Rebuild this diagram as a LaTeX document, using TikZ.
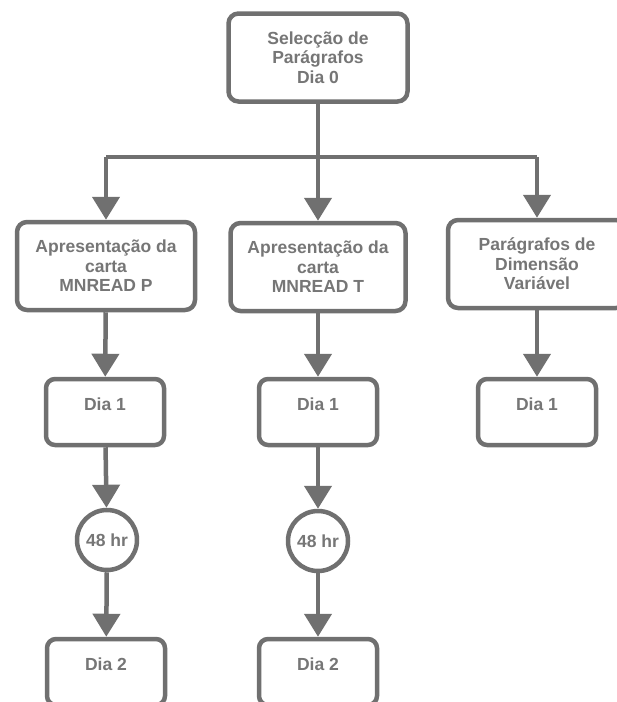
\documentclass[tikz,border=0pt]{standalone}
\usepackage{fontspec}
\setmainfont{Liberation Sans}
\usetikzlibrary{arrows.meta}
\definecolor{flowgray}{RGB}{112,112,112}
\definecolor{textgray}{RGB}{118,118,118}
\begin{document}
\begin{tikzpicture}[x=1pt, y=-1pt, line join=round,
    every node/.style={font=\fontsize{17.5}{19.5}\selectfont\bfseries, text=textgray},
    bigbox/.style={draw=flowgray, line width=4.5pt, rounded corners=10pt, fill=white,
        minimum width=178pt, minimum height=88pt, align=center},
    daybox/.style={draw=flowgray, line width=4.5pt, rounded corners=9pt, fill=white,
        minimum width=118pt, minimum height=66pt, text height=12pt, text depth=16pt},
    pause/.style={draw=flowgray, line width=4.5pt, circle, fill=white, minimum size=60pt, inner sep=0pt},
    link/.style={draw=flowgray, line width=4.5pt},
    flow/.style={link, -{Triangle[width=27pt, length=23pt]}}]
    \useasboundingbox (0,0) rectangle (617,702);
    \clip (0,0) rectangle (617,702);

    \node[bigbox, minimum width=179pt] (sel) at (318,57.5) {Selecção de\\Parágrafos\\Dia 0};
    \node[bigbox] (mnP) at (106,266) {Apresentação da\\carta\\MNREAD P};
    \node[bigbox, minimum width=175pt] (mnT) at (318,267) {Apresentação da\\carta\\MNREAD T};
    \node[bigbox] (pdv) at (537,264) {Parágrafos de\\Dimensão\\Variável};

    \node[daybox] (p1) at (105,412) {Dia 1};
    \node[daybox] (t1) at (318,412) {Dia 1};
    \node[daybox] (v1) at (537,412) {Dia 1};

    \node[pause] (p48) at (107,540) {48 hr};
    \node[pause] (t48) at (318,541) {48 hr};

    \node[daybox] (p2) at (106,672) {Dia 2};
    \node[daybox] (t2) at (318,672) {Dia 2};

    \coordinate (jl) at (106,157);
    \coordinate (jr) at (537,157);

    \draw[link] (jl) -- (jr);
    \draw[flow] (sel) -- (mnT);
    \draw[flow] (jl) -- (mnP);
    \draw[flow] (jr) -- (pdv);

    \draw[flow] (mnP) -- (p1);
    \draw[flow] (mnT) -- (t1);
    \draw[flow] (pdv) -- (v1);
    \draw[flow] (p1) -- (p48);
    \draw[flow] (t1) -- (t48);
    \draw[flow] (p48) -- (p2);
    \draw[flow] (t48) -- (t2);
\end{tikzpicture}
\end{document}
